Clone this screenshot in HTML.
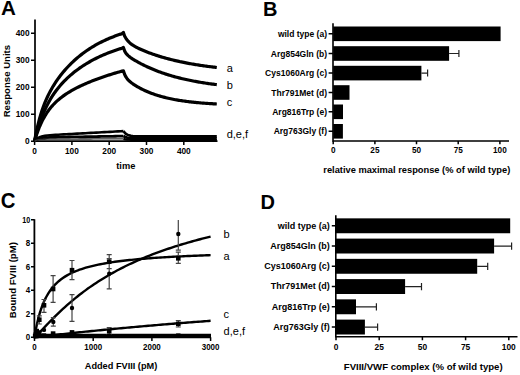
<!DOCTYPE html>
<html><head><meta charset="utf-8"><style>
html,body{margin:0;padding:0;background:#fff;width:520px;height:375px;overflow:hidden}
svg{display:block}
text{font-family:"Liberation Sans",sans-serif;fill:#000}
</style></head><body>
<svg width="520" height="375" viewBox="0 0 520 375">
<text x="0.9" y="15.3" font-size="20.6" font-weight="bold" text-anchor="start" >A</text>
<path d="M35,19.5 V141.2 M34,141.2 H217.5" stroke="#000" stroke-width="1.7" fill="none"/>
<path d="M31,141.2 H35 M31,114.2 H35 M31,87.3 H35 M31,60.3 H35 M31,33.3 H35 M34.6,141.2 V145 M71.9,141.2 V145 M109.2,141.2 V145 M146.5,141.2 V145 M183.8,141.2 V145 " stroke="#000" stroke-width="1.5" fill="none"/>
<text x="29.6" y="144.1" font-size="8.3" font-weight="bold" text-anchor="end" >0</text>
<text x="29.6" y="117.1" font-size="8.3" font-weight="bold" text-anchor="end" >100</text>
<text x="29.6" y="90.2" font-size="8.3" font-weight="bold" text-anchor="end" >200</text>
<text x="29.6" y="63.2" font-size="8.3" font-weight="bold" text-anchor="end" >300</text>
<text x="29.6" y="36.2" font-size="8.3" font-weight="bold" text-anchor="end" >400</text>
<text x="34.6" y="154" font-size="8.3" font-weight="bold" text-anchor="middle" >0</text>
<text x="71.9" y="154" font-size="8.3" font-weight="bold" text-anchor="middle" >100</text>
<text x="109.2" y="154" font-size="8.3" font-weight="bold" text-anchor="middle" >200</text>
<text x="146.5" y="154" font-size="8.3" font-weight="bold" text-anchor="middle" >300</text>
<text x="183.8" y="154" font-size="8.3" font-weight="bold" text-anchor="middle" >400</text>
<text x="125.8" y="168.8" font-size="9.3" font-weight="bold" text-anchor="middle" >time</text>
<text x="0" y="0" font-size="9.6" font-weight="bold" text-anchor="middle" transform="translate(9.6,81.1) rotate(-90)">Response Units</text>
<path d="M34.60,141.00 L34.92,139.25 L35.23,137.54 L35.55,135.89 L35.86,134.29 L36.18,132.74 L36.49,131.24 L36.81,129.77 L37.13,128.35 L37.44,126.97 L37.76,125.62 L38.07,124.32 L38.39,123.05 L38.71,121.81 L39.02,120.60 L39.34,119.43 L39.65,118.28 L39.97,117.17 L40.28,116.08 L40.60,115.02 L42.00,110.59 L43.41,106.59 L44.81,102.94 L46.21,99.59 L47.62,96.50 L49.02,93.63 L50.42,90.94 L51.83,88.42 L53.23,86.04 L54.63,83.79 L56.04,81.65 L57.44,79.61 L58.84,77.66 L60.25,75.80 L61.65,74.01 L63.05,72.29 L64.46,70.63 L65.86,69.03 L67.26,67.49 L68.67,66.01 L70.07,64.57 L71.47,63.18 L72.88,61.84 L74.28,60.54 L75.68,59.28 L77.09,58.06 L78.49,56.88 L79.89,55.74 L81.30,54.63 L82.70,53.55 L84.11,52.51 L85.51,51.50 L86.91,50.52 L88.32,49.57 L89.72,48.65 L91.12,47.76 L92.53,46.90 L93.93,46.06 L95.33,45.24 L96.74,44.45 L98.14,43.69 L99.54,42.94 L100.95,42.22 L102.35,41.52 L103.75,40.85 L105.16,40.19 L106.56,39.55 L107.96,38.93 L109.37,38.33 L110.77,37.75 L112.17,37.18 L113.58,36.64 L114.98,36.10 L116.38,35.59 L117.79,35.09 L119.19,34.60 L120.59,34.13 L122.00,33.68 L123.40,32.40 L124.58,35.91 L125.76,38.04 L126.95,39.76 L128.13,41.19 L129.31,42.40 L130.49,43.44 L131.68,44.36 L132.86,45.18 L134.04,45.92 L135.22,46.61 L136.41,47.26 L137.59,47.87 L138.77,48.45 L139.95,49.01 L141.13,49.55 L142.32,50.07 L143.50,50.57 L144.68,51.06 L145.86,51.54 L147.05,52.01 L148.23,52.46 L149.41,52.91 L150.59,53.34 L151.77,53.77 L152.96,54.19 L154.14,54.59 L155.32,54.99 L156.50,55.38 L157.69,55.76 L158.87,56.14 L160.05,56.50 L161.23,56.86 L162.42,57.21 L163.60,57.56 L164.78,57.89 L165.96,58.22 L167.14,58.55 L168.33,58.86 L169.51,59.17 L170.69,59.47 L171.87,59.77 L173.06,60.06 L174.24,60.35 L175.42,60.63 L176.60,60.90 L177.78,61.17 L178.97,61.43 L180.15,61.69 L181.33,61.94 L182.51,62.18 L183.70,62.42 L184.88,62.66 L186.06,62.89 L187.24,63.12 L188.43,63.34 L189.61,63.55 L190.79,63.77 L191.97,63.98 L193.15,64.18 L194.34,64.38 L195.52,64.57 L196.70,64.77 L197.88,64.95 L199.07,65.14 L200.25,65.32 L201.43,65.49 L202.61,65.66 L203.79,65.83 L204.98,66.00 L206.16,66.16 L207.34,66.32 L208.52,66.47 L209.71,66.63 L210.89,66.78 L212.07,66.92 L213.25,67.06 L214.44,67.20 L215.62,67.34 L216.80,67.48" stroke="#000" stroke-width="3.2" fill="none" stroke-linejoin="round"/>
<path d="M34.60,141.00 L34.92,139.70 L35.23,138.44 L35.55,137.19 L35.86,135.98 L36.18,134.79 L36.49,133.63 L36.81,132.49 L37.13,131.37 L37.44,130.28 L37.76,129.21 L38.07,128.16 L38.39,127.14 L38.71,126.13 L39.02,125.15 L39.34,124.18 L39.65,123.23 L39.97,122.30 L40.28,121.39 L40.60,120.49 L42.00,116.72 L43.41,113.23 L44.81,110.01 L46.21,107.01 L47.62,104.23 L49.02,101.62 L50.42,99.18 L51.83,96.89 L53.23,94.73 L54.63,92.69 L56.04,90.75 L57.44,88.91 L58.84,87.17 L60.25,85.50 L61.65,83.90 L63.05,82.38 L64.46,80.91 L65.86,79.51 L67.26,78.16 L68.67,76.86 L70.07,75.60 L71.47,74.39 L72.88,73.23 L74.28,72.10 L75.68,71.00 L77.09,69.94 L78.49,68.92 L79.89,67.93 L81.30,66.96 L82.70,66.03 L84.11,65.12 L85.51,64.24 L86.91,63.39 L88.32,62.55 L89.72,61.75 L91.12,60.96 L92.53,60.20 L93.93,59.46 L95.33,58.73 L96.74,58.03 L98.14,57.35 L99.54,56.68 L100.95,56.04 L102.35,55.41 L103.75,54.80 L105.16,54.20 L106.56,53.62 L107.96,53.06 L109.37,52.51 L110.77,51.97 L112.17,51.45 L113.58,50.94 L114.98,50.45 L116.38,49.97 L117.79,49.50 L119.19,49.04 L120.59,48.60 L122.00,48.17 L123.40,47.40 L124.58,50.84 L125.76,52.93 L126.95,54.44 L128.13,55.63 L129.31,56.63 L130.49,57.52 L131.68,58.33 L132.86,59.10 L134.04,59.83 L135.22,60.54 L136.41,61.23 L137.59,61.90 L138.77,62.55 L139.95,63.19 L141.13,63.82 L142.32,64.42 L143.50,65.02 L144.68,65.60 L145.86,66.17 L147.05,66.73 L148.23,67.27 L149.41,67.80 L150.59,68.32 L151.77,68.83 L152.96,69.33 L154.14,69.81 L155.32,70.29 L156.50,70.75 L157.69,71.21 L158.87,71.65 L160.05,72.09 L161.23,72.51 L162.42,72.92 L163.60,73.33 L164.78,73.73 L165.96,74.11 L167.14,74.49 L168.33,74.86 L169.51,75.23 L170.69,75.58 L171.87,75.93 L173.06,76.27 L174.24,76.60 L175.42,76.92 L176.60,77.24 L177.78,77.55 L178.97,77.85 L180.15,78.14 L181.33,78.43 L182.51,78.72 L183.70,78.99 L184.88,79.26 L186.06,79.53 L187.24,79.79 L188.43,80.04 L189.61,80.29 L190.79,80.53 L191.97,80.76 L193.15,80.99 L194.34,81.22 L195.52,81.44 L196.70,81.66 L197.88,81.87 L199.07,82.07 L200.25,82.27 L201.43,82.47 L202.61,82.66 L203.79,82.85 L204.98,83.04 L206.16,83.22 L207.34,83.39 L208.52,83.56 L209.71,83.73 L210.89,83.90 L212.07,84.06 L213.25,84.21 L214.44,84.37 L215.62,84.52 L216.80,84.67" stroke="#000" stroke-width="3.2" fill="none" stroke-linejoin="round"/>
<path d="M34.60,141.00 L34.92,139.93 L35.23,138.88 L35.55,137.86 L35.86,136.86 L36.18,135.88 L36.49,134.93 L36.81,134.00 L37.13,133.08 L37.44,132.19 L37.76,131.33 L38.07,130.47 L38.39,129.64 L38.71,128.83 L39.02,128.04 L39.34,127.26 L39.65,126.50 L39.97,125.75 L40.28,125.03 L40.60,124.31 L42.00,121.32 L43.41,118.60 L44.81,116.11 L46.21,113.82 L47.62,111.72 L49.02,109.78 L50.42,107.98 L51.83,106.31 L53.23,104.75 L54.63,103.29 L56.04,101.92 L57.44,100.63 L58.84,99.42 L60.25,98.26 L61.65,97.17 L63.05,96.13 L64.46,95.13 L65.86,94.18 L67.26,93.26 L68.67,92.38 L70.07,91.53 L71.47,90.72 L72.88,89.92 L74.28,89.16 L75.68,88.41 L77.09,87.69 L78.49,86.99 L79.89,86.30 L81.30,85.63 L82.70,84.98 L84.11,84.35 L85.51,83.72 L86.91,83.12 L88.32,82.52 L89.72,81.94 L91.12,81.37 L92.53,80.81 L93.93,80.26 L95.33,79.72 L96.74,79.19 L98.14,78.68 L99.54,78.17 L100.95,77.67 L102.35,77.18 L103.75,76.70 L105.16,76.23 L106.56,75.76 L107.96,75.30 L109.37,74.86 L110.77,74.41 L112.17,73.98 L113.58,73.55 L114.98,73.13 L116.38,72.72 L117.79,72.32 L119.19,71.92 L120.59,71.53 L122.00,71.14 L123.40,70.90 L124.58,74.28 L125.76,76.70 L126.95,78.48 L128.13,79.87 L129.31,81.03 L130.49,82.04 L131.68,82.96 L132.86,83.81 L134.04,84.61 L135.22,85.37 L136.41,86.10 L137.59,86.79 L138.77,87.46 L139.95,88.11 L141.13,88.73 L142.32,89.33 L143.50,89.91 L144.68,90.47 L145.86,91.00 L147.05,91.52 L148.23,92.02 L149.41,92.50 L150.59,92.97 L151.77,93.42 L152.96,93.85 L154.14,94.27 L155.32,94.67 L156.50,95.06 L157.69,95.44 L158.87,95.80 L160.05,96.15 L161.23,96.48 L162.42,96.81 L163.60,97.12 L164.78,97.42 L165.96,97.72 L167.14,98.00 L168.33,98.27 L169.51,98.53 L170.69,98.78 L171.87,99.03 L173.06,99.26 L174.24,99.49 L175.42,99.71 L176.60,99.92 L177.78,100.12 L178.97,100.32 L180.15,100.51 L181.33,100.69 L182.51,100.87 L183.70,101.04 L184.88,101.20 L186.06,101.36 L187.24,101.51 L188.43,101.66 L189.61,101.80 L190.79,101.94 L191.97,102.07 L193.15,102.20 L194.34,102.32 L195.52,102.44 L196.70,102.55 L197.88,102.66 L199.07,102.77 L200.25,102.87 L201.43,102.97 L202.61,103.07 L203.79,103.16 L204.98,103.25 L206.16,103.33 L207.34,103.42 L208.52,103.50 L209.71,103.57 L210.89,103.65 L212.07,103.72 L213.25,103.79 L214.44,103.86 L215.62,103.92 L216.80,103.98" stroke="#000" stroke-width="3.2" fill="none" stroke-linejoin="round"/>
<path d="M34.60,141.20 L35.02,140.66 L35.43,140.18 L35.85,139.74 L36.27,139.34 L36.68,138.97 L37.10,138.65 L37.52,138.35 L37.93,138.08 L38.35,137.83 L38.77,137.61 L39.18,137.40 L39.60,137.21 L40.02,137.04 L40.43,136.89 L40.85,136.75 L41.27,136.62 L41.68,136.50 L42.10,136.38 L42.52,136.28 L42.93,136.19 L43.35,136.10 L43.77,136.02 L44.18,135.95 L44.60,135.88 L47.32,135.52 L50.03,135.26 L52.75,135.06 L55.47,134.88 L58.19,134.72 L60.90,134.56 L63.62,134.41 L66.34,134.26 L69.06,134.11 L71.77,133.96 L74.49,133.81 L77.21,133.66 L79.92,133.51 L82.64,133.36 L85.36,133.21 L88.08,133.06 L90.79,132.91 L93.51,132.76 L96.23,132.61 L98.94,132.46 L101.66,132.31 L104.38,132.16 L107.10,132.01 L109.81,131.86 L112.53,131.71 L115.25,131.56 L117.97,131.41 L120.68,131.27 L123.40,131.12" stroke="#000" stroke-width="2.6" fill="none" stroke-linejoin="round"/>
<path d="M123.40,131.12 L125.31,133.33 L127.21,134.62 L129.12,135.37 L131.02,135.80 L132.93,136.05 L134.84,136.20 L136.74,136.28 L138.65,136.33 L140.56,136.36 L142.46,136.38 L144.37,136.39 L146.27,136.39 L148.18,136.40 L150.09,136.40 L151.99,136.40 L153.90,136.40 L155.80,136.40 L157.71,136.40 L159.62,136.40 L161.52,136.40 L163.43,136.40 L165.33,136.40 L167.24,136.40 L169.15,136.40 L171.05,136.40 L172.96,136.40 L174.87,136.40 L176.77,136.40 L178.68,136.40 L180.58,136.40 L182.49,136.40 L184.40,136.40 L186.30,136.40 L188.21,136.40 L190.11,136.40 L192.02,136.40 L193.93,136.40 L195.83,136.40 L197.74,136.40 L199.64,136.40 L201.55,136.40 L203.46,136.40 L205.36,136.40 L207.27,136.40 L209.18,136.40 L211.08,136.40 L212.99,136.40 L214.89,136.40 L216.80,136.40" stroke="#000" stroke-width="2.6" fill="none" stroke-linejoin="round"/>
<path d="M34.60,141.20 L35.02,140.84 L35.43,140.51 L35.85,140.21 L36.27,139.94 L36.68,139.70 L37.10,139.48 L37.52,139.29 L37.93,139.11 L38.35,138.95 L38.77,138.80 L39.18,138.67 L39.60,138.55 L40.02,138.44 L40.43,138.34 L40.85,138.25 L41.27,138.17 L41.68,138.09 L42.10,138.02 L42.52,137.96 L42.93,137.91 L43.35,137.86 L43.77,137.81 L44.18,137.77 L44.60,137.73 L47.32,137.53 L50.03,137.41 L52.75,137.33 L55.47,137.26 L58.19,137.21 L60.90,137.16 L63.62,137.11 L66.34,137.06 L69.06,137.01 L71.77,136.97 L74.49,136.92 L77.21,136.88 L79.92,136.83 L82.64,136.78 L85.36,136.74 L88.08,136.69 L90.79,136.64 L93.51,136.60 L96.23,136.55 L98.94,136.51 L101.66,136.46 L104.38,136.41 L107.10,136.37 L109.81,136.32 L112.53,136.28 L115.25,136.23 L117.97,136.18 L120.68,136.14 L123.40,136.09" stroke="#000" stroke-width="2.8" fill="none" stroke-linejoin="round"/>
<path d="M123.40,136.09 L125.31,137.10 L127.21,137.69 L129.12,138.03 L131.02,138.23 L132.93,138.34 L134.84,138.41 L136.74,138.45 L138.65,138.47 L140.56,138.48 L142.46,138.49 L144.37,138.49 L146.27,138.50 L148.18,138.50 L150.09,138.50 L151.99,138.50 L153.90,138.50 L155.80,138.50 L157.71,138.50 L159.62,138.50 L161.52,138.50 L163.43,138.50 L165.33,138.50 L167.24,138.50 L169.15,138.50 L171.05,138.50 L172.96,138.50 L174.87,138.50 L176.77,138.50 L178.68,138.50 L180.58,138.50 L182.49,138.50 L184.40,138.50 L186.30,138.50 L188.21,138.50 L190.11,138.50 L192.02,138.50 L193.93,138.50 L195.83,138.50 L197.74,138.50 L199.64,138.50 L201.55,138.50 L203.46,138.50 L205.36,138.50 L207.27,138.50 L209.18,138.50 L211.08,138.50 L212.99,138.50 L214.89,138.50 L216.80,138.50" stroke="#000" stroke-width="2.8" fill="none" stroke-linejoin="round"/>
<path d="M34.60,141.20 L35.02,140.94 L35.43,140.71 L35.85,140.51 L36.27,140.34 L36.68,140.19 L37.10,140.06 L37.52,139.94 L37.93,139.85 L38.35,139.76 L38.77,139.68 L39.18,139.62 L39.60,139.56 L40.02,139.51 L40.43,139.46 L40.85,139.42 L41.27,139.39 L41.68,139.36 L42.10,139.33 L42.52,139.31 L42.93,139.29 L43.35,139.27 L43.77,139.26 L44.18,139.24 L44.60,139.23 L47.32,139.18 L50.03,139.15 L52.75,139.13 L55.47,139.12 L58.19,139.11 L60.90,139.10 L63.62,139.08 L66.34,139.07 L69.06,139.06 L71.77,139.05 L74.49,139.04 L77.21,139.03 L79.92,139.02 L82.64,139.01 L85.36,139.00 L88.08,138.99 L90.79,138.98 L93.51,138.96 L96.23,138.95 L98.94,138.94 L101.66,138.93 L104.38,138.92 L107.10,138.91 L109.81,138.90 L112.53,138.89 L115.25,138.88 L117.97,138.87 L120.68,138.86 L123.40,138.84" stroke="#333" stroke-width="1.3" fill="none" stroke-linejoin="round"/>
<path d="M123.40,138.84 L125.31,139.33 L127.21,139.61 L129.12,139.77 L131.02,139.87 L132.93,139.92 L134.84,139.96 L136.74,139.97 L138.65,139.99 L140.56,139.99 L142.46,140.00 L144.37,140.00 L146.27,140.00 L148.18,140.00 L150.09,140.00 L151.99,140.00 L153.90,140.00 L155.80,140.00 L157.71,140.00 L159.62,140.00 L161.52,140.00 L163.43,140.00 L165.33,140.00 L167.24,140.00 L169.15,140.00 L171.05,140.00 L172.96,140.00 L174.87,140.00 L176.77,140.00 L178.68,140.00 L180.58,140.00 L182.49,140.00 L184.40,140.00 L186.30,140.00 L188.21,140.00 L190.11,140.00 L192.02,140.00 L193.93,140.00 L195.83,140.00 L197.74,140.00 L199.64,140.00 L201.55,140.00 L203.46,140.00 L205.36,140.00 L207.27,140.00 L209.18,140.00 L211.08,140.00 L212.99,140.00 L214.89,140.00 L216.80,140.00" stroke="#000" stroke-width="2.2" fill="none" stroke-linejoin="round"/>
<text x="226.8" y="71.9" font-size="11" font-weight="normal" text-anchor="start" >a</text>
<text x="226.8" y="88.8" font-size="11" font-weight="normal" text-anchor="start" >b</text>
<text x="226.8" y="106.4" font-size="11" font-weight="normal" text-anchor="start" >c</text>
<text x="226.7" y="137.9" font-size="11" font-weight="normal" text-anchor="start" >d,e,f</text>
<text x="263" y="16.4" font-size="20" font-weight="bold" text-anchor="start" >B</text>
<path d="M333.0,23.3 V141 M332.2,141 H509" stroke="#000" stroke-width="1.6" fill="none"/>
<path d="M328.6,33.8 H333 M328.6,53.5 H333 M328.6,73.1 H333 M328.6,92.5 H333 M328.6,111.8 H333 M328.6,131.3 H333 M333.2,141 V144.3 M374.9,141 V144.3 M416.5,141 V144.3 M458.2,141 V144.3 M499.9,141 V144.3 " stroke="#000" stroke-width="1.5" fill="none"/>
<text x="327" y="36.9" font-size="8.5" font-weight="bold" text-anchor="end" >wild type (a)</text>
<text x="327" y="56.6" font-size="8.5" font-weight="bold" text-anchor="end" >Arg854Gln (b)</text>
<text x="327" y="76.2" font-size="8.5" font-weight="bold" text-anchor="end" >Cys1060Arg (c)</text>
<text x="327" y="95.6" font-size="8.5" font-weight="bold" text-anchor="end" >Thr791Met (d)</text>
<text x="327" y="114.9" font-size="8.5" font-weight="bold" text-anchor="end" >Arg816Trp (e)</text>
<text x="327" y="134.4" font-size="8.5" font-weight="bold" text-anchor="end" >Arg763Gly (f)</text>
<rect x="333.2" y="26.499999999999996" width="167.4" height="14.6" fill="#000"/>
<rect x="333.2" y="46.2" width="115.9" height="14.6" fill="#000"/>
<path d="M449.1,53.5 H458.9 M458.9,50.0 V57.0" stroke="#222" stroke-width="1.2" fill="none"/>
<rect x="333.2" y="65.8" width="88.2" height="14.6" fill="#000"/>
<path d="M421.4,73.1 H427.6 M427.6,69.6 V76.6" stroke="#222" stroke-width="1.2" fill="none"/>
<rect x="333.2" y="85.2" width="16.3" height="14.6" fill="#000"/>
<rect x="333.2" y="104.5" width="9.8" height="14.6" fill="#000"/>
<rect x="333.2" y="124.00000000000001" width="9.7" height="14.6" fill="#000"/>
<text x="333.2" y="153.1" font-size="8.2" font-weight="bold" text-anchor="middle" >0</text>
<text x="374.9" y="153.1" font-size="8.2" font-weight="bold" text-anchor="middle" >25</text>
<text x="416.5" y="153.1" font-size="8.2" font-weight="bold" text-anchor="middle" >50</text>
<text x="458.2" y="153.1" font-size="8.2" font-weight="bold" text-anchor="middle" >75</text>
<text x="499.9" y="153.1" font-size="8.2" font-weight="bold" text-anchor="middle" >100</text>
<text x="416.8" y="172.9" font-size="9.3" font-weight="bold" text-anchor="middle" >relative maximal response (% of wild type)</text>
<text x="0.7" y="208.1" font-size="22" font-weight="bold" text-anchor="start" textLength="14.7" lengthAdjust="spacingAndGlyphs">C</text>
<path d="M34.4,219.3 V337.3 M33.5,337.3 H211" stroke="#000" stroke-width="1.8" fill="none"/>
<path d="M31,337.3 H34.4 M31,313.8 H34.4 M31,290.3 H34.4 M31,266.8 H34.4 M31,243.3 H34.4 M31,219.8 H34.4 M34.5,337.3 V341 M93.2,337.3 V341 M151.9,337.3 V341 M210.6,337.3 V341 " stroke="#000" stroke-width="1.5" fill="none"/>
<text x="30.2" y="340.3" font-size="8.5" font-weight="bold" text-anchor="end" textLength="4.45" lengthAdjust="spacingAndGlyphs">0</text>
<text x="30.2" y="316.8" font-size="8.5" font-weight="bold" text-anchor="end" textLength="4.45" lengthAdjust="spacingAndGlyphs">2</text>
<text x="30.2" y="293.3" font-size="8.5" font-weight="bold" text-anchor="end" textLength="4.45" lengthAdjust="spacingAndGlyphs">4</text>
<text x="30.2" y="269.8" font-size="8.5" font-weight="bold" text-anchor="end" textLength="4.45" lengthAdjust="spacingAndGlyphs">6</text>
<text x="30.2" y="246.3" font-size="8.5" font-weight="bold" text-anchor="end" textLength="4.45" lengthAdjust="spacingAndGlyphs">8</text>
<text x="30.2" y="222.8" font-size="8.5" font-weight="bold" text-anchor="end" textLength="8.00" lengthAdjust="spacingAndGlyphs">10</text>
<text x="34.5" y="349.6" font-size="8.5" font-weight="bold" text-anchor="middle" textLength="4.45" lengthAdjust="spacingAndGlyphs">0</text>
<text x="93.2" y="349.6" font-size="8.5" font-weight="bold" text-anchor="middle" textLength="17.80" lengthAdjust="spacingAndGlyphs">1000</text>
<text x="151.9" y="349.6" font-size="8.5" font-weight="bold" text-anchor="middle" textLength="17.80" lengthAdjust="spacingAndGlyphs">2000</text>
<text x="210.6" y="349.6" font-size="8.5" font-weight="bold" text-anchor="middle" textLength="17.80" lengthAdjust="spacingAndGlyphs">3000</text>
<text x="121" y="369.2" font-size="9.2" font-weight="bold" text-anchor="middle" >Added FVIII (pM)</text>
<text x="0" y="0" font-size="9.6" font-weight="bold" text-anchor="middle" transform="translate(15.5,280.2) rotate(-90)">Bound FVIII (pM)</text>
<path d="M34.50,337.30 L34.80,335.44 L35.10,333.66 L35.40,331.96 L35.70,330.31 L36.01,328.74 L36.31,327.22 L36.61,325.76 L36.91,324.35 L37.21,322.99 L37.51,321.68 L37.81,320.42 L38.11,319.20 L38.41,318.01 L38.71,316.87 L39.02,315.77 L39.32,314.70 L39.62,313.66 L39.92,312.66 L40.22,311.68 L40.52,310.74 L40.82,309.82 L41.12,308.93 L41.42,308.07 L41.72,307.23 L42.03,306.41 L42.33,305.62 L42.63,304.84 L42.93,304.09 L43.23,303.36 L43.53,302.65 L43.83,301.95 L44.13,301.27 L44.43,300.61 L44.73,299.97 L45.04,299.34 L45.34,298.73 L45.64,298.13 L45.94,297.55 L46.24,296.98 L46.24,296.98 L48.32,293.37 L50.40,290.26 L52.48,287.56 L54.56,285.18 L56.64,283.08 L58.72,281.21 L60.80,279.53 L62.88,278.01 L64.96,276.64 L67.05,275.39 L69.13,274.24 L71.21,273.19 L73.29,272.22 L75.37,271.33 L77.45,270.50 L79.53,269.73 L81.61,269.01 L83.69,268.34 L85.77,267.71 L87.85,267.12 L89.93,266.57 L92.01,266.04 L94.09,265.55 L96.17,265.08 L98.25,264.64 L100.33,264.23 L102.41,263.83 L104.49,263.45 L106.57,263.09 L108.66,262.75 L110.74,262.42 L112.82,262.11 L114.90,261.81 L116.98,261.53 L119.06,261.26 L121.14,261.00 L123.22,260.74 L125.30,260.50 L127.38,260.27 L129.46,260.05 L131.54,259.83 L133.62,259.63 L135.70,259.43 L137.78,259.24 L139.86,259.05 L141.94,258.87 L144.02,258.70 L146.10,258.53 L148.18,258.37 L150.27,258.21 L152.35,258.06 L154.43,257.91 L156.51,257.77 L158.59,257.63 L160.67,257.50 L162.75,257.37 L164.83,257.24 L166.91,257.12 L168.99,257.00 L171.07,256.88 L173.15,256.77 L175.23,256.66 L177.31,256.55 L179.39,256.45 L181.47,256.35 L183.55,256.25 L185.63,256.15 L187.71,256.06 L189.79,255.97 L191.88,255.88 L193.96,255.79 L196.04,255.70 L198.12,255.62 L200.20,255.54 L202.28,255.46 L204.36,255.38 L206.44,255.31 L208.52,255.23 L210.60,255.16" stroke="#000" stroke-width="2.4" fill="none"/>
<path d="M34.50,337.30 L34.80,337.09 L35.10,336.84 L35.40,336.58 L35.70,336.30 L36.01,336.02 L36.31,335.74 L36.61,335.45 L36.91,335.15 L37.21,334.85 L37.51,334.55 L37.81,334.25 L38.11,333.94 L38.41,333.64 L38.71,333.33 L39.02,333.02 L39.32,332.71 L39.62,332.40 L39.92,332.08 L40.22,331.77 L40.52,331.45 L40.82,331.14 L41.12,330.82 L41.42,330.51 L41.72,330.19 L42.03,329.87 L42.33,329.56 L42.63,329.24 L42.93,328.92 L43.23,328.60 L43.53,328.29 L43.83,327.97 L44.13,327.65 L44.43,327.34 L44.73,327.02 L45.04,326.70 L45.34,326.39 L45.64,326.07 L45.94,325.75 L46.24,325.44 L46.24,325.44 L48.32,323.27 L50.40,321.12 L52.48,319.01 L54.56,316.92 L56.64,314.88 L58.72,312.86 L60.80,310.89 L62.88,308.95 L64.96,307.05 L67.05,305.19 L69.13,303.37 L71.21,301.58 L73.29,299.83 L75.37,298.12 L77.45,296.45 L79.53,294.81 L81.61,293.20 L83.69,291.63 L85.77,290.10 L87.85,288.59 L89.93,287.12 L92.01,285.68 L94.09,284.27 L96.17,282.89 L98.25,281.54 L100.33,280.21 L102.41,278.92 L104.49,277.65 L106.57,276.41 L108.66,275.19 L110.74,274.00 L112.82,272.83 L114.90,271.68 L116.98,270.56 L119.06,269.46 L121.14,268.38 L123.22,267.33 L125.30,266.29 L127.38,265.28 L129.46,264.28 L131.54,263.31 L133.62,262.35 L135.70,261.41 L137.78,260.49 L139.86,259.58 L141.94,258.69 L144.02,257.82 L146.10,256.97 L148.18,256.13 L150.27,255.30 L152.35,254.49 L154.43,253.70 L156.51,252.91 L158.59,252.15 L160.67,251.39 L162.75,250.65 L164.83,249.92 L166.91,249.21 L168.99,248.50 L171.07,247.81 L173.15,247.13 L175.23,246.46 L177.31,245.80 L179.39,245.16 L181.47,244.52 L183.55,243.89 L185.63,243.28 L187.71,242.67 L189.79,242.08 L191.88,241.49 L193.96,240.91 L196.04,240.34 L198.12,239.78 L200.20,239.23 L202.28,238.69 L204.36,238.15 L206.44,237.63 L208.52,237.11 L210.60,236.60" stroke="#000" stroke-width="2.4" fill="none"/>
<path d="M34.50,337.30 L34.80,337.26 L35.10,337.23 L35.40,337.19 L35.70,337.16 L36.01,337.12 L36.31,337.09 L36.61,337.05 L36.91,337.02 L37.21,336.98 L37.51,336.94 L37.81,336.91 L38.11,336.87 L38.41,336.84 L38.71,336.80 L39.02,336.77 L39.32,336.73 L39.62,336.70 L39.92,336.66 L40.22,336.63 L40.52,336.59 L40.82,336.56 L41.12,336.52 L41.42,336.49 L41.72,336.45 L42.03,336.42 L42.33,336.38 L42.63,336.35 L42.93,336.31 L43.23,336.28 L43.53,336.24 L43.83,336.21 L44.13,336.17 L44.43,336.14 L44.73,336.11 L45.04,336.07 L45.34,336.04 L45.64,336.00 L45.94,335.97 L46.24,335.93 L46.24,335.93 L48.32,335.70 L50.40,335.46 L52.48,335.23 L54.56,334.99 L56.64,334.76 L58.72,334.53 L60.80,334.30 L62.88,334.07 L64.96,333.85 L67.05,333.62 L69.13,333.40 L71.21,333.18 L73.29,332.96 L75.37,332.74 L77.45,332.52 L79.53,332.30 L81.61,332.09 L83.69,331.87 L85.77,331.66 L87.85,331.45 L89.93,331.24 L92.01,331.03 L94.09,330.82 L96.17,330.61 L98.25,330.41 L100.33,330.20 L102.41,330.00 L104.49,329.80 L106.57,329.60 L108.66,329.40 L110.74,329.20 L112.82,329.00 L114.90,328.80 L116.98,328.61 L119.06,328.41 L121.14,328.22 L123.22,328.03 L125.30,327.83 L127.38,327.64 L129.46,327.45 L131.54,327.27 L133.62,327.08 L135.70,326.89 L137.78,326.71 L139.86,326.52 L141.94,326.34 L144.02,326.16 L146.10,325.98 L148.18,325.80 L150.27,325.62 L152.35,325.44 L154.43,325.26 L156.51,325.09 L158.59,324.91 L160.67,324.74 L162.75,324.56 L164.83,324.39 L166.91,324.22 L168.99,324.05 L171.07,323.88 L173.15,323.71 L175.23,323.54 L177.31,323.37 L179.39,323.20 L181.47,323.04 L183.55,322.87 L185.63,322.71 L187.71,322.55 L189.79,322.38 L191.88,322.22 L193.96,322.06 L196.04,321.90 L198.12,321.74 L200.20,321.58 L202.28,321.43 L204.36,321.27 L206.44,321.11 L208.52,320.96 L210.60,320.81" stroke="#000" stroke-width="2.4" fill="none"/>
<path d="M34.5,335.6 H211" stroke="#000" stroke-width="3.6" fill="none"/>
<path d="M39.3,315.8 V324 M36.8,324 H41.8 M36.8,315.8 H41.8 M44.0,299.5 V312.3 M41.5,312.3 H46.5 M41.5,299.5 H46.5 M53.1,275.6 V302.4 M50.6,302.4 H55.6 M50.6,275.6 H55.6 M72.0,260.5 V279.6 M69.5,279.6 H74.5 M69.5,260.5 H74.5 M109.2,254.7 V268.7 M106.7,268.7 H111.7 M106.7,254.7 H111.7 M178.3,252.2 V263.4 M175.8,263.4 H180.8 M175.8,252.2 H180.8 M53.3,317.6 V326.1 M50.8,326.1 H55.8 M50.8,317.6 H55.8 M72.0,294.7 V321.3 M69.5,321.3 H74.5 M69.5,294.7 H74.5 M109.2,258.7 V288.9 M106.7,288.9 H111.7 M106.7,258.7 H111.7 M178.3,219.9 V250.2 M175.8,250.2 H180.8 M109.2,327.5 V334.5 M106.7,334.5 H111.7 M106.7,327.5 H111.7 M178.3,320.5 V327 M175.8,327 H180.8 M175.8,320.5 H180.8 " stroke="#444" stroke-width="1.2" fill="none"/>
<rect x="37.0" y="317.4" width="4.6" height="4.6" fill="#000"/>
<rect x="41.7" y="303.0" width="4.6" height="4.6" fill="#000"/>
<rect x="50.8" y="286.7" width="4.6" height="4.6" fill="#000"/>
<rect x="69.7" y="267.9" width="4.6" height="4.6" fill="#000"/>
<rect x="106.9" y="259.4" width="4.6" height="4.6" fill="#000"/>
<rect x="176.0" y="256.0" width="4.6" height="4.6" fill="#000"/>
<rect x="50.8" y="331.3" width="4.6" height="4.6" fill="#000"/>
<rect x="69.7" y="330.1" width="4.6" height="4.6" fill="#000"/>
<rect x="106.9" y="328.7" width="4.6" height="4.6" fill="#000"/>
<rect x="176.0" y="321.5" width="4.6" height="4.6" fill="#000"/>
<circle cx="44.0" cy="329.9" r="2.2" fill="#000"/>
<circle cx="53.3" cy="321.9" r="2.2" fill="#000"/>
<circle cx="72.0" cy="308" r="2.2" fill="#000"/>
<circle cx="109.2" cy="273.8" r="2.2" fill="#000"/>
<circle cx="178.3" cy="234" r="2.2" fill="#000"/>
<rect x="32.9" y="333.8" width="4.4" height="4.4" fill="#000"/>
<rect x="33.5" y="332.3" width="4.4" height="4.4" fill="#000"/>
<rect x="34.6" y="328.8" width="4.4" height="4.4" fill="#000"/>
<rect x="34.6" y="333.8" width="4.4" height="4.4" fill="#000"/>
<rect x="37.1" y="332.8" width="4.4" height="4.4" fill="#000"/>
<rect x="41.8" y="333.3" width="4.4" height="4.4" fill="#000"/>
<rect x="50.9" y="333.6" width="4.4" height="4.4" fill="#000"/>
<rect x="69.8" y="333.6" width="4.4" height="4.4" fill="#000"/>
<rect x="107.0" y="333.6" width="4.4" height="4.4" fill="#000"/>
<rect x="176.1" y="333.4" width="4.4" height="4.4" fill="#000"/>
<circle cx="35.7" cy="335.5" r="2.2" fill="#000"/>
<circle cx="36.8" cy="334" r="2.2" fill="#000"/>
<circle cx="39.3" cy="332.5" r="2.2" fill="#000"/>
<text x="223.6" y="238" font-size="11" font-weight="normal" text-anchor="start" >b</text>
<text x="223.6" y="260" font-size="11" font-weight="normal" text-anchor="start" >a</text>
<text x="223.6" y="318.4" font-size="11" font-weight="normal" text-anchor="start" >c</text>
<text x="223.6" y="335.4" font-size="11" font-weight="normal" text-anchor="start" >d,e,f</text>
<text x="260.5" y="209" font-size="20" font-weight="bold" text-anchor="start" >D</text>
<path d="M335.8,215.2 V336.8 M335,336.8 H517.5" stroke="#000" stroke-width="1.6" fill="none"/>
<path d="M331.8,225.8 H336 M331.8,246.05 H336 M331.8,266.3 H336 M331.8,286.55 H336 M331.8,306.8 H336 M331.8,327.05 H336 M336.0,336.8 V340.3 M379.2,336.8 V340.3 M422.4,336.8 V340.3 M465.6,336.8 V340.3 M508.8,336.8 V340.3 " stroke="#000" stroke-width="1.5" fill="none"/>
<text x="329.8" y="228.5" font-size="9" font-weight="bold" text-anchor="end" >wild type (a)</text>
<text x="329.8" y="248.8" font-size="9" font-weight="bold" text-anchor="end" >Arg854Gln (b)</text>
<text x="329.8" y="269.0" font-size="9" font-weight="bold" text-anchor="end" >Cys1060Arg (c)</text>
<text x="329.8" y="289.2" font-size="9" font-weight="bold" text-anchor="end" >Thr791Met (d)</text>
<text x="329.8" y="309.5" font-size="9" font-weight="bold" text-anchor="end" >Arg816Trp (e)</text>
<text x="329.8" y="329.8" font-size="9" font-weight="bold" text-anchor="end" >Arg763Gly (f)</text>
<rect x="336" y="218.35" width="174.2" height="14.9" fill="#000"/>
<rect x="336" y="238.60" width="158.1" height="14.9" fill="#000"/>
<path d="M494.1,246.05 H511.6 M511.6,242.45000000000002 V249.65" stroke="#222" stroke-width="1.2" fill="none"/>
<rect x="336" y="258.85" width="141.2" height="14.9" fill="#000"/>
<path d="M477.2,266.3 H487.7 M487.7,262.7 V269.90000000000003" stroke="#222" stroke-width="1.2" fill="none"/>
<rect x="336" y="279.10" width="69.1" height="14.9" fill="#000"/>
<path d="M405.1,286.55 H421.5 M421.5,282.95 V290.15000000000003" stroke="#222" stroke-width="1.2" fill="none"/>
<rect x="336" y="299.35" width="20.0" height="14.9" fill="#000"/>
<path d="M356.0,306.8 H376.4 M376.4,303.2 V310.40000000000003" stroke="#222" stroke-width="1.2" fill="none"/>
<rect x="336" y="319.60" width="28.9" height="14.9" fill="#000"/>
<path d="M364.9,327.05 H377.6 M377.6,323.45 V330.65000000000003" stroke="#222" stroke-width="1.2" fill="none"/>
<text x="336.0" y="349.8" font-size="8.4" font-weight="bold" text-anchor="middle" >0</text>
<text x="379.2" y="349.8" font-size="8.4" font-weight="bold" text-anchor="middle" >25</text>
<text x="422.4" y="349.8" font-size="8.4" font-weight="bold" text-anchor="middle" >50</text>
<text x="465.6" y="349.8" font-size="8.4" font-weight="bold" text-anchor="middle" >75</text>
<text x="508.8" y="349.8" font-size="8.4" font-weight="bold" text-anchor="middle" >100</text>
<text x="423.2" y="369.6" font-size="9.6" font-weight="bold" text-anchor="middle" >FVIII/VWF complex (% of wild type)</text>
</svg>
</body></html>
